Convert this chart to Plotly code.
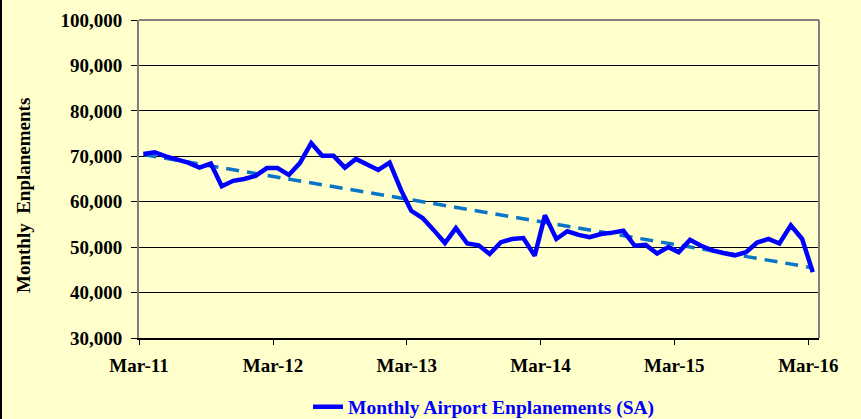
import numpy as np
import pandas as pd
import plotly.graph_objects as go

# Monthly airport enplanements (SA), Mar-2011 .. Mar-2016
months = pd.date_range("2011-03-01", "2016-03-01", freq="MS")
values = [
    70500, 70900, 70000, 69200, 68600, 67500, 68400, 63400, 64600, 65000,
    65700, 67400, 67400, 65900, 68500, 72900, 70100, 70100, 67500, 69400,
    68300, 67000, 68600, 62600, 58000, 56400, 53800, 50900, 54200, 50800,
    50400, 48500, 51100, 51800, 52000, 48100, 57000, 51800, 53500, 52700,
    52200, 52900, 53200, 53600, 50300, 50500, 48600, 50000, 48900, 51600,
    50300, 49300, 48700, 48200, 48900, 51000, 51800, 50800, 54800, 51800,
    44500,
]
tick_labels = ["Mar-11", "Mar-12", "Mar-13", "Mar-14", "Mar-15", "Mar-16"]
tick_dates = pd.to_datetime(["2011-03-01", "2012-03-01", "2013-03-01",
                             "2014-03-01", "2015-03-01", "2016-03-01"])
y_ticks = [30000, 40000, 50000, 60000, 70000, 80000, 90000, 100000]

x = months + pd.Timedelta(days=12)
idx = np.arange(len(values))
coef = np.polyfit(idx, values, 1)
trend = np.polyval(coef, idx)

BG = "#FFFFCC"
FONT = "Liberation Serif"
W, H = 861, 419
L, R, T, B = 139, 42, 20, 81
PW, PH = W - L - R, H - T - B

fig = go.Figure()
fig.add_trace(go.Scatter(
    x=x, y=trend, mode="lines", showlegend=False,
    line=dict(color="#0A74C8", width=3.5, dash="13px,8px"),
))
fig.add_trace(go.Scatter(
    x=x, y=values, mode="lines", name="Monthly Airport Enplanements (SA)",
    line=dict(color="#0000FF", width=4.5),
))

fig.update_layout(
    width=W, height=H,
    paper_bgcolor=BG, plot_bgcolor=BG,
    margin=dict(l=L, r=R, t=T, b=B),
    font=dict(family=FONT, color="black"),
    showlegend=True,
    legend=dict(
        orientation="h", x=484 / W, xanchor="center", xref="container",
        y=(H - 407) / H, yanchor="middle", yref="container",
        bgcolor="rgba(0,0,0,0)",
        font=dict(family=FONT, size=19.5, color="#0000FF", weight="bold"),
        itemwidth=30,
    ),
    xaxis=dict(
        type="date", automargin=False,
        range=["2011-03-01", "2016-03-30"],
        tickmode="array", tickvals=tick_dates, ticktext=tick_labels,
        ticks="outside", ticklen=5, tickwidth=1, tickcolor="black",
        showgrid=False, zeroline=False,
        showline=True, linecolor="black", linewidth=1.5,
        tickfont=dict(family=FONT, size=19, color="black", weight="bold"),
        ticklabelstandoff=4,
    ),
    yaxis=dict(
        range=[30000, 100000], automargin=False,
        tickmode="array", tickvals=y_ticks,
        tickformat=",d",
        ticks="outside", ticklen=6, tickwidth=1, tickcolor="black",
        showgrid=True, gridcolor="black", gridwidth=1,
        zeroline=False,
        showline=True, linecolor="#808080", linewidth=2,
        tickfont=dict(family=FONT, size=19, color="black", weight="bold"),
        ticklabelstandoff=5,
    ),
    annotations=[
        dict(text="Monthly  Enplanements", xref="paper", yref="paper",
             x=(23 - L) / PW, y=1 - (196 - T) / PH, xanchor="center",
             yanchor="middle", textangle=-90, showarrow=False,
             font=dict(family=FONT, size=19, color="black", weight="bold")),
    ],
    shapes=[
        dict(type="line", xref="paper", yref="paper", x0=0, x1=1, y0=1, y1=1,
             line=dict(color="#808080", width=2)),
        dict(type="line", xref="paper", yref="paper", x0=1, x1=1, y0=0, y1=1,
             line=dict(color="#808080", width=2)),
        dict(type="line", xref="paper", yref="paper",
             x0=-(L - 1) / PW, x1=-(L - 1) / PW, y0=-1, y1=2,
             line=dict(color="black", width=2)),
    ],
)

fig.write_html(
    "out.html",
    config={"displayModeBar": False},
    post_script="document.body.style.margin='0';"
                "document.body.style.overflow='hidden';"
                "document.body.style.background='#FFFFCC';",
)
